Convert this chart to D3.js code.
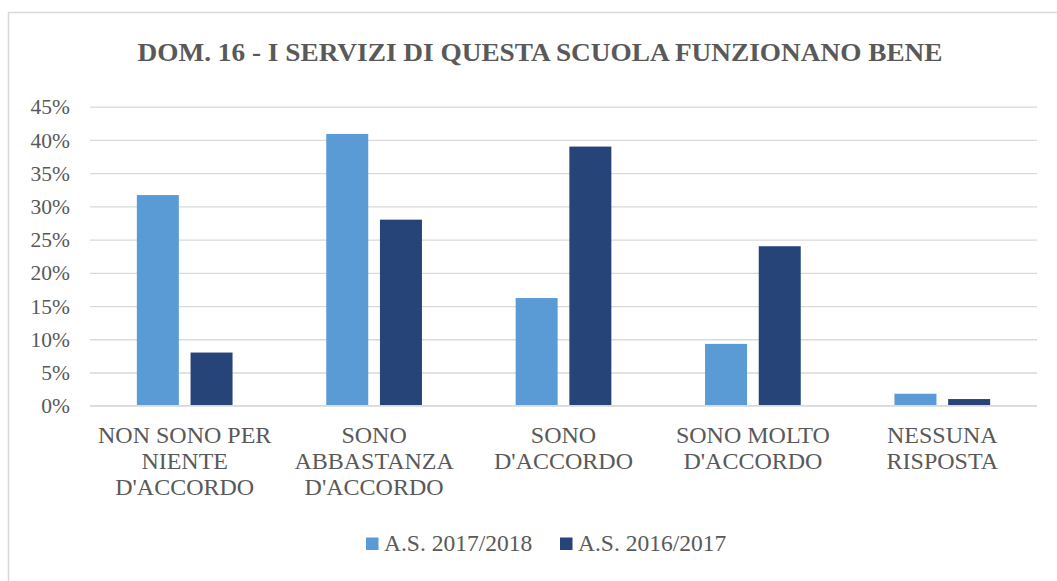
<!DOCTYPE html>
<html>
<head>
<meta charset="utf-8">
<script src="https://cdn.jsdelivr.net/npm/d3@7"></script>
<style>
  html, body { margin: 0; padding: 0; background: #fff; }
  svg { display: block; }
  text { font-family: "Liberation Serif", "DejaVu Serif", serif; fill: #595959; }
</style>
</head>
<body>
<svg id="chart" width="1057" height="581"></svg>
<script>
const title = "DOM. 16 - I SERVIZI DI QUESTA SCUOLA FUNZIONANO BENE";
const categories = [
  ["NON SONO PER", "NIENTE", "D'ACCORDO"],
  ["SONO", "ABBASTANZA", "D'ACCORDO"],
  ["SONO", "D'ACCORDO"],
  ["SONO MOLTO", "D'ACCORDO"],
  ["NESSUNA", "RISPOSTA"]
];
const seriesNames = ["A.S. 2017/2018", "A.S. 2016/2017"];
const series2017_2018 = [0.317, 0.409, 0.162, 0.093, 0.018];
const series2016_2017 = [0.08, 0.28, 0.39, 0.24, 0.01];
const yTicks = [0, 0.05, 0.10, 0.15, 0.20, 0.25, 0.30, 0.35, 0.40, 0.45];
const colors = ["#5B9BD5", "#264478"];

const svg = d3.select("#chart");
const W = 1057, H = 581;

// chart border
svg.append("rect")
  .attr("x", 8.5).attr("y", 12.5)
  .attr("width", W + 10).attr("height", H + 10)
  .attr("fill", "none").attr("stroke", "#D9D9D9").attr("stroke-width", 1.5);

const plot = { left: 90, right: 1037, top: 106.7, bottom: 405.7 };

const x0 = d3.scaleBand()
  .domain(d3.range(categories.length))
  .range([plot.left, plot.right])
  .paddingInner(0).paddingOuter(0);

const barW = 42, barGap = 11.7;
const y = d3.scaleLinear().domain([0, 0.45]).range([plot.bottom, plot.top]);

// title
svg.append("text")
  .attr("x", 540).attr("y", 61)
  .attr("text-anchor", "middle")
  .style("font-size", "26px").style("font-weight", "bold")
  .attr("textLength", 805).attr("lengthAdjust", "spacingAndGlyphs")
  .text(title);

// gridlines
const yAxis = d3.axisLeft(y).tickValues(yTicks)
  .tickSize(-(plot.right - plot.left))
  .tickFormat(d3.format(".0%"))
  .tickPadding(20);
const gy = svg.append("g")
  .attr("transform", `translate(${plot.left},0)`)
  .call(yAxis);
gy.select(".domain").remove();
gy.selectAll(".tick line").attr("stroke", "#D9D9D9").attr("stroke-width", 1.3);
gy.selectAll(".tick text")
  .style("font-size", "21.5px").attr("fill", "#595959")
  .style("font-family", "'Liberation Serif', serif")
  .attr("dy", "0.33em");

// bars
const data = categories.map((c, i) => ({ i, vals: [series2017_2018[i], series2016_2017[i]] }));
const groups = svg.append("g").selectAll("g").data(data).join("g");
groups.selectAll("rect")
  .data(d => d.vals.map((v, s) => ({ i: d.i, s, v })))
  .join("rect")
  .attr("x", d => x0(d.i) + x0.bandwidth() / 2 - (barW + barGap / 2) + d.s * (barW + barGap))
  .attr("width", barW)
  .attr("y", d => y(d.v))
  .attr("height", d => y(0) - y(d.v))
  .attr("fill", d => colors[d.s]);

// baseline
svg.append("line")
  .attr("x1", plot.left).attr("x2", plot.right)
  .attr("y1", y(0)).attr("y2", y(0))
  .attr("stroke", "#D9D9D9").attr("stroke-width", 1.3);

// category labels
const labels = svg.append("g").selectAll("text").data(categories).join("text")
  .attr("text-anchor", "middle")
  .style("font-size", "24px")
  .attr("x", (d, i) => x0(i) + x0.bandwidth() / 2)
  .attr("y", 442.5);
labels.selectAll("tspan").data(d => d).join("tspan")
  .attr("x", function () { return d3.select(this.parentNode).attr("x"); })
  .attr("dy", (d, j) => j === 0 ? 0 : 26.3)
  .text(d => d);

// legend
const legendX = [366, 560];
const leg = svg.append("g").selectAll("g").data(seriesNames).join("g")
  .attr("transform", (d, i) => `translate(${legendX[i]},537.5)`);
leg.append("rect").attr("width", 12.5).attr("height", 12.5).attr("fill", (d, i) => colors[i]);
leg.append("text").attr("x", 18).attr("y", 13.5)
  .style("font-size", "23.5px").text(d => d);
</script>
</body>
</html>
